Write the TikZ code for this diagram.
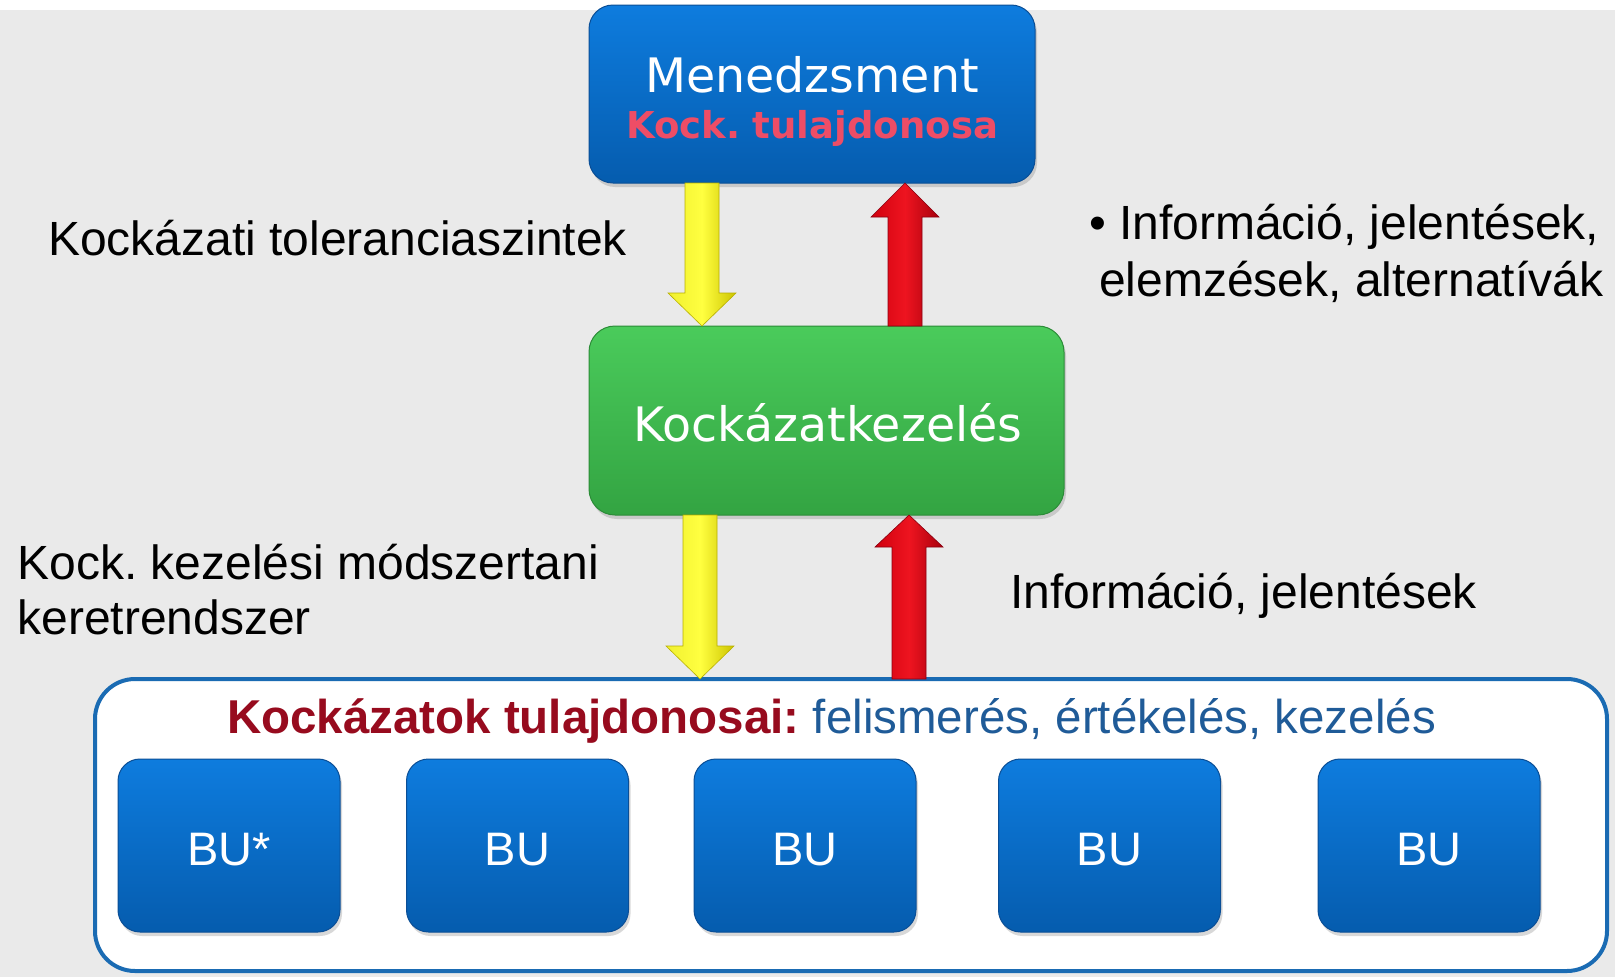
\documentclass[tikz,border=0pt]{standalone}
\usepackage{fontspec}
\setmainfont{Liberation Sans}
\newfontfamily\dvfont{DejaVu Sans}
\usetikzlibrary{calc,shadows}
\frenchspacing
\definecolor{bgc}{HTML}{EAEAEA}
\definecolor{bluetop}{HTML}{0E7CDE}
\definecolor{bluebot}{HTML}{055CAE}
\definecolor{blueedge}{HTML}{0A4E96}
\definecolor{greentop}{HTML}{4ACB5B}
\definecolor{greenbot}{HTML}{33A442}
\definecolor{greenedge}{HTML}{2B8C37}
\definecolor{pinkc}{HTML}{EE4D66}
\definecolor{ownedge}{HTML}{1A6BB3}
\definecolor{ttlred}{HTML}{970B1E}
\definecolor{ttlblue}{HTML}{1F5B98}
\definecolor{yelL}{HTML}{F0F030}
\definecolor{yelM}{HTML}{FFFF40}
\definecolor{yelR}{HTML}{CCC400}
\definecolor{yelE}{HTML}{B8B000}
\definecolor{redL}{HTML}{D0000E}
\definecolor{redM}{HTML}{EE1420}
\definecolor{redR}{HTML}{A8000C}
\definecolor{redE}{HTML}{8A0010}
% #1 style, #2 start, #3 tip, #4 head-base offset from tip (canvas)
\newcommand\myblockarrow[4]{%
  \path[#1] let \p1=#2, \p2=#3 in
    (\x1-17pt,\y1) -- (\x1-17pt,{\y2+(#4)}) -- (\x1-34pt,{\y2+(#4)}) -- (\x1,\y2)
    -- (\x1+34pt,{\y2+(#4)}) -- (\x1+17pt,{\y2+(#4)}) -- (\x1+17pt,\y1) -- cycle;}
\begin{document}
\begin{tikzpicture}[x=1pt,y=-1pt,
  bluebox/.style={rounded corners=24pt, top color=bluetop, bottom color=bluebot,
    draw=blueedge, line width=1pt, inner sep=0pt, outer sep=0pt,
    drop shadow={shadow xshift=2pt, shadow yshift=-4pt, opacity=.3}},
  greenbox/.style={rounded corners=26pt, top color=greentop, bottom color=greenbot,
    draw=greenedge, line width=1pt, inner sep=0pt, outer sep=0pt,
    drop shadow={shadow xshift=2pt, shadow yshift=-4pt, opacity=.3}},
  ownbox/.style={rounded corners=40pt, draw=ownedge, line width=4pt, fill=white,
    inner sep=0pt, outer sep=0pt},
  txt/.style={inner sep=0pt, outer sep=0pt, anchor=base west,
    font=\fontsize{48pt}{56pt}\selectfont},
  boxtxt/.style={inner sep=0pt, outer sep=0pt, anchor=base, text=white},
  yarrow/.style={left color=yelL, right color=yelR, middle color=yelM,
    draw=yelE, line width=.6pt},
  rarrow/.style={left color=redL, right color=redR, middle color=redM,
    draw=redE, line width=.6pt}]
\useasboundingbox (0,0) rectangle (1615,977);
\fill[white] (0,0) rectangle (1615,977);
\fill[bgc] (0,10) rectangle (1615,977);

% boxes
\node[bluebox, minimum width=446pt, minimum height=178pt] (men) at (812,94) {};
\node[boxtxt, font={\dvfont\fontsize{47.5pt}{50pt}\selectfont}] (menT) at (812,92) {Menedzsment};
\node[boxtxt, text=pinkc, font={\dvfont\bfseries\fontsize{37pt}{40pt}\selectfont}] (menS) at (812,138) {Kock. tulajdonosa};

\node[greenbox, minimum width=475pt, minimum height=189pt] (mgr) at (826.5,420.5) {};
\node[boxtxt, font={\dvfont\fontsize{47.5pt}{50pt}\selectfont}] (mgrT) at (828,441) {Kockázatkezelés};

\node[ownbox, minimum width=1512pt, minimum height=292pt] (own) at (851,825) {};
\node[txt, font=\fontsize{47.5pt}{56pt}\selectfont] (ownT) at (227,733) {{\bfseries\color{ttlred}Kockázatok tulajdonosai:} {\color{ttlblue}felismerés, értékelés, kezelés}};

\foreach \i/\xx/\lab in {1/229/BU*, 2/517.5/BU, 3/805/BU, 4/1109.5/BU, 5/1429/BU}{
  \node[bluebox, rounded corners=22pt, minimum width=222pt, minimum height=173pt] (bu\i) at (\xx,845.5) {};
  \node[boxtxt, font=\fontsize{47pt}{50pt}\selectfont] (bu\i t) at (\xx,865) {\lab};
}

% arrows
\coordinate (ax1) at (702,0);
\coordinate (ax2) at (905,0);
\coordinate (ax3) at (700,0);
\coordinate (ax4) at (909,0);
\myblockarrow{yarrow}{(men.south -| ax1)}{(mgr.north -| ax1)}{33pt}
\myblockarrow{rarrow}{(mgr.north -| ax2)}{(men.south -| ax2)}{-34pt}
\myblockarrow{yarrow}{(mgr.south -| ax3)}{(own.north -| ax3)}{33pt}
\myblockarrow{rarrow}{(own.north -| ax4)}{(mgr.south -| ax4)}{-32pt}

% labels
\node[txt] (l1) at (48,255) {Kockázati toleranciaszintek};
\node[txt] (r1a) at (1089,239) {• Információ, jelentések,};
\node[txt] (r1b) at (1099,296) {elemzések, alternatívák};
\node[txt] (l2a) at (17.5,579) {Kock. kezelési módszertani};
\node[txt] (l2b) at (17.5,634) {keretrendszer};
\node[txt] (r2) at (1010,608) {Információ, jelentések};
\end{tikzpicture}
\end{document}
